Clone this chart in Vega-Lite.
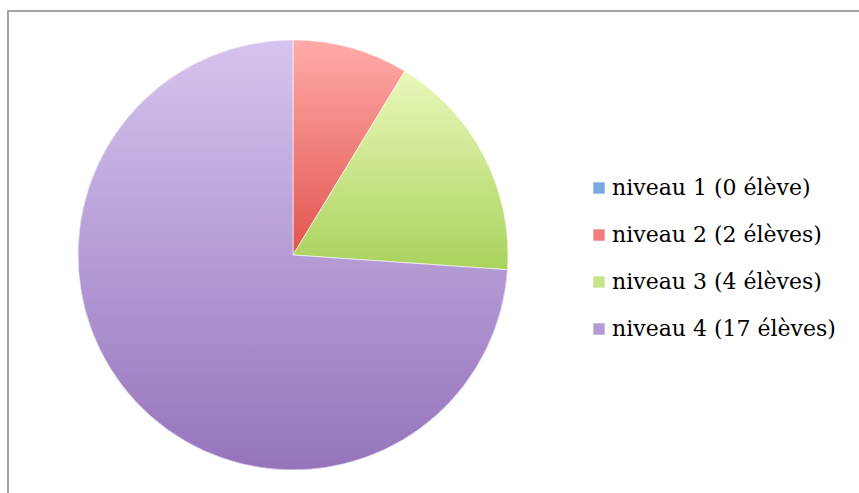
{
  "$schema": "https://vega.github.io/schema/vega-lite/v6.json",
  "width": 870,
  "height": 490,
  "padding": {"left": 8, "top": 11, "right": 0, "bottom": 0},
  "autosize": "none",
  "background": "white",
  "config": {
    "view": {"stroke": null},
    "font": "DejaVu Serif"
  },
  "data": {
    "values": [
      {"niveau": "niveau 1 (0 élève)", "eleves": 0},
      {"niveau": "niveau 2 (2 élèves)", "eleves": 2},
      {"niveau": "niveau 3 (4 élèves)", "eleves": 4},
      {"niveau": "niveau 4 (17 élèves)", "eleves": 17}
    ]
  },
  "transform": [
    {"stack": "eleves", "groupby": [], "sort": [{"field": "niveau", "order": "ascending"}], "as": ["debut", "fin"]}
  ],
  "layer": [
    {
      "data": {"values": [{"cadre": "cadre"}]},
      "mark": {"type": "rect", "fill": null, "fillOpacity": 0, "stroke": "#a3a3a3", "strokeWidth": 2},
      "encoding": {
        "x": {"value": 0},
        "x2": {"value": "width"},
        "y": {"value": 0},
        "y2": {"value": "height"}
      }
    },
    {
      "mark": {"type": "arc", "outerRadius": 215, "x": 285, "y": 244},
      "encoding": {
        "theta": {"field": "debut", "type": "quantitative", "stack": null, "scale": {"domain": [0, 23]}},
        "theta2": {"field": "fin"},
        "color": {
          "field": "niveau",
          "type": "nominal",
          "scale": {
            "domain": ["niveau 1 (0 élève)", "niveau 2 (2 élèves)", "niveau 3 (4 élèves)", "niveau 4 (17 élèves)"],
            "range": ["#78a9e3", "#f07e7a", "#c8e48a", "#b59bd6"]
          },
          "legend": {
            "title": null,
            "orient": "none",
            "legendX": 580,
            "legendY": 166,
            "symbolType": "square",
            "symbolSize": 130,
            "symbolStrokeWidth": 0,
            "symbolOpacity": 1,
            "labelFont": "DejaVu Serif",
            "labelFontSize": 22,
            "labelColor": "#000000",
            "labelOffset": 2,
            "rowPadding": 25,
            "labelLimit": 400
          }
        }
      }
    },
    {
      "transform": [{"filter": "datum.niveau === 'niveau 2 (2 élèves)'"}],
      "mark": {"type": "arc", "outerRadius": 215, "x": 285, "y": 244, "stroke": "#ffffff", "strokeWidth": 0.6,
        "fill": {"gradient": "linear", "x1": 0, "y1": 0, "x2": 0, "y2": 1, "stops": [{"offset": 0, "color": "#ffaba8"}, {"offset": 1, "color": "#e2544f"}]}},
      "encoding": {
        "theta": {"field": "debut", "type": "quantitative", "stack": null, "scale": {"domain": [0, 23]}},
        "theta2": {"field": "fin"}
      }
    },
    {
      "transform": [{"filter": "datum.niveau === 'niveau 3 (4 élèves)'"}],
      "mark": {"type": "arc", "outerRadius": 215, "x": 285, "y": 244, "stroke": "#ffffff", "strokeWidth": 0.6,
        "fill": {"gradient": "linear", "x1": 0, "y1": 0, "x2": 0, "y2": 1, "stops": [{"offset": 0, "color": "#e9f8ba"}, {"offset": 1, "color": "#a9d25c"}]}},
      "encoding": {
        "theta": {"field": "debut", "type": "quantitative", "stack": null, "scale": {"domain": [0, 23]}},
        "theta2": {"field": "fin"}
      }
    },
    {
      "transform": [{"filter": "datum.niveau === 'niveau 4 (17 élèves)'"}],
      "mark": {"type": "arc", "outerRadius": 215, "x": 285, "y": 244, "stroke": "#ffffff", "strokeWidth": 0.6,
        "fill": {"gradient": "linear", "x1": 0, "y1": 0, "x2": 0, "y2": 1, "stops": [{"offset": 0, "color": "#d5c4ef"}, {"offset": 1, "color": "#9574bc"}]}},
      "encoding": {
        "theta": {"field": "debut", "type": "quantitative", "stack": null, "scale": {"domain": [0, 23]}},
        "theta2": {"field": "fin"}
      }
    }
  ]
}
